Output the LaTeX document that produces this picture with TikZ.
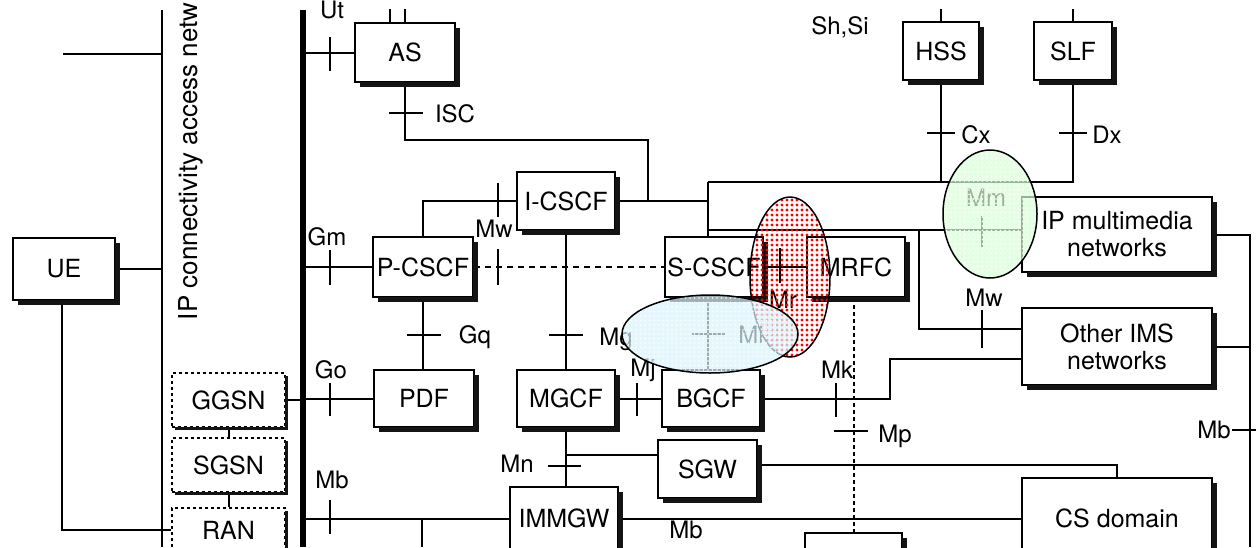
\documentclass[tikz,border=0pt]{standalone}
\usepackage{fontspec}
\setmainfont{TeX Gyre Heros}
\usetikzlibrary{patterns}
\pgfdeclarepatternformonly{bigdots}{\pgfqpoint{-1pt}{-1pt}}{\pgfqpoint{6pt}{6pt}}{\pgfqpoint{5pt}{5pt}}{\pgfpathcircle{\pgfqpoint{2pt}{2pt}}{1.6pt}\pgfusepath{fill}}
\pgfdeclarepatternformonly{smalldots}{\pgfqpoint{-1pt}{-1pt}}{\pgfqpoint{5pt}{5pt}}{\pgfqpoint{4.5pt}{4.5pt}}{\pgfpathcircle{\pgfqpoint{1.5pt}{1.5pt}}{0.9pt}\pgfusepath{fill}}
\definecolor{shadowgray}{RGB}{20,20,20}
\newcommand{\myboxfont}{\fontsize{25}{27}\selectfont}
\newcommand{\mylabfont}{\fontsize{24}{26}\selectfont}
\begin{document}
\begin{tikzpicture}[x=1pt,y=-1pt,line width=2pt,
  box/.style={draw,fill=white,line width=2.2pt,inner sep=0pt,align=center,font=\myboxfont},
  dbox/.style={draw,dashed,fill=white,line width=1.8pt,inner sep=0pt,font=\myboxfont},
  shadowline/.style={draw=shadowgray,line width=5.5pt,line cap=butt,line join=miter},
  dshadowline/.style={draw=shadowgray,line width=3.5pt,line cap=butt,line join=miter},
  lab/.style={font=\mylabfont,inner sep=0pt},
  tick/.style={line width=2pt},
  ell/.style={line width=1.5pt}]
\useasboundingbox (0,0) rectangle (1256,547);
\fill[white] (0,0) rectangle (1256,547);

% coordinates
\coordinate (tbT) at (162,10); \coordinate (tbB) at (162,547);
\coordinate (kbT) at (303,10); \coordinate (kbB) at (303,547);
\coordinate (lnA) at (63,54);
\coordinate (busA) at (708,182);
\coordinate (busB) at (708,230);
\coordinate (iscT) at (648,140);
\coordinate (iscJ) at (648,201);
\coordinate (icJ) at (708,201);
\coordinate (mwJ) at (919,230);
\coordinate (rbT) at (1250,234.5); \coordinate (rbB) at (1250,547);
\coordinate (mkJ) at (890,398.5);
\coordinate (mbJ) at (422,518.5); \coordinate (mbB) at (422,547);

% boxes
\node[box,minimum width=102pt,minimum height=62pt] (UE) at (64,269) {UE};
\node[box,minimum width=100pt,minimum height=59pt] (AS) at (405,52.5) {AS};
\node[box,minimum width=76pt,minimum height=58pt] (HSS) at (941,51) {HSS};
\node[box,minimum width=78pt,minimum height=58pt] (SLF) at (1073,51) {SLF};
\node[box,minimum width=98pt,minimum height=58pt] (ICSCF) at (566,201) {I-CSCF};
\node[box,minimum width=100pt,minimum height=60pt] (PCSCF) at (423,267) {P-CSCF};
\node[box,minimum width=98pt,minimum height=60pt] (SCSCF) at (714,267) {S-CSCF};
\node[box,minimum width=98pt,minimum height=60pt] (MRFC) at (856,267) {MRFC};
\node[box,minimum width=100pt,minimum height=57pt] (PDF) at (424,398.5) {PDF};
\node[box,minimum width=98pt,minimum height=57pt] (MGCF) at (566,398.5) {MGCF};
\node[box,minimum width=98pt,minimum height=57pt] (BGCF) at (711,398.5) {BGCF};
\node[box,minimum width=99pt,minimum height=58pt] (SGW) at (707.5,469) {SGW};
\node[box,minimum width=108pt,minimum height=63pt] (IMMGW) at (564,518.5) {IMMGW};
\node[box,minimum width=190pt,minimum height=80pt] (CSD) at (1117,518) {CS domain};
\node[box,minimum width=190pt,minimum height=75pt] (IPMM) at (1117,234.5) {IP multimedia\\networks};
\node[box,minimum width=190pt,minimum height=77pt] (OIMS) at (1117,346.5) {Other IMS\\networks};
\node[box,minimum width=97pt,minimum height=66pt] (MRFP) at (853.5,566) {};
\node[dbox,minimum width=113pt,minimum height=54pt] (GGSN) at (228.5,400) {GGSN};
\node[dbox,minimum width=113pt,minimum height=54pt] (SGSN) at (228.5,465) {SGSN};
\node[dbox,minimum width=113pt,minimum height=44pt] (RAN) at (228.5,530) {RAN};

% buses and connectors
\draw (tbT) -- (tbB);
\draw[line width=5.5pt] (kbT) -- (kbB);
\draw (lnA) -- (lnA -| tbT);
\draw (UE.east) -- (UE.east -| tbT);
\draw ([xshift=-2pt]UE.south) |- (RAN.west);
\draw (GGSN.east) -- (GGSN.east -| kbT);
\draw (GGSN.south) -- (SGSN.north);
\draw (SGSN.south) -- (RAN.north);
\draw (AS.west) -- (AS.west -| kbT);
\draw ([xshift=-15pt]AS.north) -- ++(0,-13);
\draw (AS.north) -- ++(0,-13);
\draw (HSS.north) -- ++(0,-12);
\draw (SLF.north) -- ++(0,-12);
\draw (AS.south) |- (iscT) -- (iscJ);
\draw (ICSCF.east) -- (icJ);
\draw (busA) -- (busA |- SCSCF.north);
\draw (busA) -| (SLF.south);
\draw (HSS.south) -- (HSS.south |- busA);
\draw (busB) -- (busB -| IPMM.west);
\draw (mwJ) |- ([yshift=17.5pt]OIMS.west);
\draw (BGCF.east) -- (mkJ) |- ([yshift=-12.5pt]OIMS.west);
\draw (IPMM.east) -- (rbT) -- (rbB);
\draw (OIMS.east) -- (OIMS.east -| rbT);
\draw (PCSCF.west) -- (PCSCF.west -| kbT);
\draw (ICSCF.west) -| (PCSCF.north);
\draw[dash pattern=on 6pt off 5pt] (PCSCF.east) -- (SCSCF.west);
\draw (ICSCF.south) -- (MGCF.north);
\draw (PCSCF.south) -- (PCSCF.south |- PDF.north);
\draw (PDF.west) -- (PDF.west -| kbT);
\draw (MGCF.east) -- (BGCF.west);
\draw (SCSCF.south -| busA) -- (BGCF.north -| busA);
\draw (SCSCF.east) -- (MRFC.west);
\draw[dash pattern=on 4pt off 3pt] (MRFP.north |- MRFC.south) -- (MRFP.north);
\draw (MGCF.south) -- (MGCF.south |- IMMGW.north);
\coordinate (sgwIn) at ([yshift=14pt]SGW.west);
\draw (sgwIn -| MGCF.south) -- (sgwIn);
\draw ([yshift=4pt]SGW.east) -| (CSD.north);
\draw (IMMGW.west) -- (IMMGW.west -| kbT);
\draw (IMMGW.east) -- (IMMGW.east -| CSD.west);
\draw (mbJ) -- (mbB);

% drop shadows of the boxes (thick L-shaped strokes on right and bottom)
\draw[shadowline] (117.5,243) -- (117.5,302.5) -- (18,302.5);
\draw[shadowline] (457.5,28) -- (457.5,84.5) -- (360,84.5);
\draw[shadowline] (981.5,27) -- (981.5,82.5) -- (908,82.5);
\draw[shadowline] (1114.5,27) -- (1114.5,82.5) -- (1039,82.5);
\draw[shadowline] (617.5,177) -- (617.5,232.5) -- (522,232.5);
\draw[shadowline] (475.5,242) -- (475.5,299.5) -- (378,299.5);
\draw[shadowline] (765.5,242) -- (765.5,299.5) -- (670,299.5);
\draw[shadowline] (907.5,242) -- (907.5,299.5) -- (812,299.5);
\draw[shadowline] (476.5,375) -- (476.5,429.5) -- (379,429.5);
\draw[shadowline] (617.5,375) -- (617.5,429.5) -- (522,429.5);
\draw[shadowline] (762.5,375) -- (762.5,429.5) -- (667,429.5);
\draw[shadowline] (759.5,445) -- (759.5,500.5) -- (663,500.5);
\draw[shadowline] (620.5,492) -- (620.5,552);
\draw[shadowline] (1214.5,483) -- (1214.5,552);
\draw[shadowline] (1214.5,202) -- (1214.5,274.5) -- (1027,274.5);
\draw[shadowline] (1214.5,313) -- (1214.5,387.5) -- (1027,387.5);
\draw[shadowline] (904.5,538) -- (904.5,552);
\draw[dshadowline] (286.5,376) -- (286.5,428.5) -- (175,428.5);
\draw[dshadowline] (286.5,441) -- (286.5,493.5) -- (175,493.5);
\draw[dshadowline] (286.5,511) -- (286.5,552);

% ticks
\draw[tick] (330,37) -- (330,71);
\draw[tick] (389,113) -- (423,113);
\draw[tick] (330,250) -- (330,285);
\draw[tick] (498,183) -- (498,217);
\draw[tick] (498,249) -- (498,285);
\draw[tick] (407,335) -- (441,335);
\draw[tick] (549,335) -- (583,335);
\draw[tick] (330,383) -- (330,416);
\draw[tick] (637,383) -- (637,416);
\draw[tick] (692,334) -- (725,334);
\draw[tick] (780,248) -- (780,283);
\draw[tick] (836,383) -- (836,417);
\draw[tick] (834,431) -- (868,431);
\draw[tick] (548,466) -- (581,466);
\draw[tick] (330,500) -- (330,534);
\draw[tick] (927,133) -- (955,133);
\draw[tick] (1059,133) -- (1087,133);
\draw[tick] (982,216) -- (982,247);
\draw[tick] (982,310) -- (982,348);
\draw[tick] (1232,430) -- (1256,430);

% labels
\node[rotate=90,anchor=base west,inner sep=0pt,font=\fontsize{26}{28}\selectfont] (ipcan) at (197,321) {IP connectivity access netw};
\node[lab] (lUt) at (332,9.5) {Ut};
\node[lab] (lISC) at (455,114) {ISC};
\node[lab] (lGm) at (327,237) {Gm};
\node[lab] (lMw1) at (494,229) {Mw};
\node[lab] (lGq) at (475,337) {Gq};
\node[lab] (lMg) at (616,339) {Mg};
\node[lab] (lGo) at (331,370) {Go};
\node[lab] (lMj) at (643,370) {Mj};
\node[lab] (lMn) at (517,464) {Mn};
\node[lab] (lMb1) at (332,480) {Mb};
\node[lab] (lMb2) at (686,530) {Mb};
\node[lab] (lMi) at (751,335) {Mi};
\node[lab] (lMr) at (783,300) {Mr};
\node[lab] (lMk) at (837,370) {Mk};
\node[lab] (lMp) at (895,436) {Mp};
\node[lab] (lMm) at (986,198) {Mm};
\node[lab] (lMw2) at (984,298) {Mw};
\node[lab] (lCx) at (976,135) {Cx};
\node[lab] (lDx) at (1107,135) {Dx};
\node[lab] (lShSi) at (840,27) {Sh,Si};
\node[lab] (lMb3) at (1214,430) {Mb};

% highlight ellipses
\fill[pattern=bigdots,pattern color=red] (790,277) ellipse [x radius=40pt,y radius=80pt];
\draw[ell] (790,277) ellipse [x radius=40pt,y radius=80pt];
\fill[cyan!14,fill opacity=0.7] (710,334) ellipse [x radius=88pt,y radius=39pt];
\fill[pattern=smalldots,pattern color=white] (710,334) ellipse [x radius=88pt,y radius=39pt];
\draw[ell] (710,334) ellipse [x radius=88pt,y radius=39pt];
\fill[green!14,fill opacity=0.7] (990,214) ellipse [x radius=47pt,y radius=64pt];
\fill[pattern=smalldots,pattern color=white] (990,214) ellipse [x radius=47pt,y radius=64pt];
\draw[ell] (990,214) ellipse [x radius=47pt,y radius=64pt];
\end{tikzpicture}
\end{document}
